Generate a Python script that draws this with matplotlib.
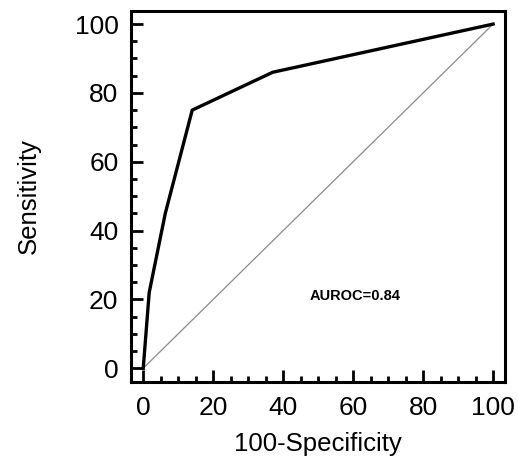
import matplotlib
matplotlib.use("Agg")
import matplotlib.pyplot as plt
from matplotlib.ticker import MultipleLocator

# ROC curve
fpr = [0, 1.7, 6.3, 14, 37, 100]
tpr = [0, 22, 45, 75, 86, 100]
diag = [0, 100]
auroc_label = "AUROC=0.84"

plt.rcParams['font.family'] = ['Liberation Sans', 'DejaVu Sans']

fig = plt.figure(figsize=(5.18, 4.63), dpi=100)
ax = fig.add_axes([131 / 518, 1 - 382 / 463, (505 - 131) / 518, (382 - 11) / 463])

ax.plot(diag, diag, color='#8a8a8a', lw=0.9)
ax.plot(fpr, tpr, color='black', lw=2.4, solid_joinstyle='miter')

ax.set_xlim(-3.5, 103.4)
ax.set_ylim(-4, 103.8)
ax.xaxis.set_major_locator(MultipleLocator(20))
ax.xaxis.set_minor_locator(MultipleLocator(5))
ax.yaxis.set_major_locator(MultipleLocator(20))
ax.yaxis.set_minor_locator(MultipleLocator(5))
ax.tick_params(which='both', direction='in', width=2, labelsize=19, top=False, right=False)
ax.tick_params(axis='x', pad=10)
ax.tick_params(axis='y', pad=9)
ax.tick_params(which='major', length=8.5)
ax.tick_params(which='minor', length=4.5)
for s in ax.spines.values():
    s.set_linewidth(2.2)

ax.set_xlabel("100-Specificity", fontsize=18.5, labelpad=9)
ax.set_ylabel("Sensitivity", fontsize=18.5, labelpad=24)

ax.text(60.5, 21, auroc_label, fontsize=10.5, fontweight='bold', ha='center', va='center')

fig.savefig("out.png", dpi=100)
